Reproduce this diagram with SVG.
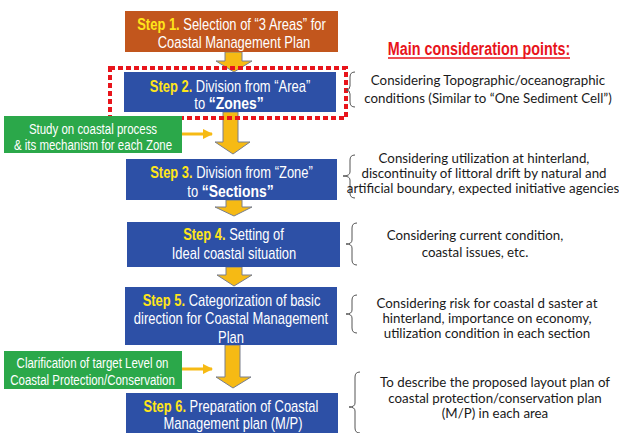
<svg xmlns="http://www.w3.org/2000/svg" width="619" height="433" viewBox="0 0 619 433">
<defs>
<style>
.step{font-family:"Liberation Sans",Arial,sans-serif;font-size:15.8px;fill:#fff;text-anchor:middle}
.y{fill:#FFE51A;font-weight:bold}
.b{font-weight:bold;font-size:17px}
.blue{fill:#2D50A6}
.green{fill:#2BA84A}
.gt{font-family:"Liberation Sans",Arial,sans-serif;font-size:14px;fill:#fff;text-anchor:middle}
.note{font-family:Lato,"Liberation Sans",sans-serif;font-size:13.3px;fill:#1a1a1a;text-anchor:middle}
.brace{fill:none;stroke:#555;stroke-width:1}
.big{fill:#F6BA14;stroke:#7A7F8C;stroke-width:1}
.thin{stroke:#F6BA14;stroke-width:3;fill:none}
</style>
<marker id="ah" viewBox="0 0 10 10" refX="9" refY="5" markerWidth="3.5" markerHeight="3.5" orient="auto"><path d="M0,0 L10,5 L0,10 z" fill="#F6BA14"/></marker>
</defs>
<rect width="619" height="433" fill="#fff"/>

<g id="connectors">
<path class="big" d="M225,52 H242 V61 H252 L234,72 L216,61 H225 Z"/>
<path class="big" d="M223,112 H238 V142 H250 L233,154 L215,142 H223 Z"/>
<path class="big" d="M226,200 H242 V207 H252 L234,216 L215,207 H226 Z"/>
<path class="big" d="M226,267 H242 V275 H252 L234,286 L217,275 H226 Z"/>
<path class="big" d="M225,345 H240 V377 H251 L233,388 L216,377 H225 Z"/>
<line class="thin" x1="182" y1="134" x2="212" y2="134" marker-end="url(#ah)"/>
<line class="thin" x1="182" y1="369" x2="212" y2="369" marker-end="url(#ah)"/>
</g>

<g id="step1">
<rect x="125" y="11" width="213" height="41" fill="#C2561D"/>
<text class="step" transform="translate(231.5,30) scale(0.82,1)"><tspan class="y">Step 1.</tspan> Selection of “3 Areas” for</text>
<text class="step" transform="translate(234,48) scale(0.82,1)">Coastal Management Plan</text>
</g>

<g id="step2">
<rect class="blue" x="124" y="72" width="212" height="40"/>
<text class="step" transform="translate(230,92) scale(0.82,1)"><tspan class="y">Step 2.</tspan> Division from “Area”</text>
<text class="step" transform="translate(229,109) scale(0.82,1)">to <tspan class="b">“Zones”</tspan></text>
</g>

<g id="highlight">
<rect x="110" y="68" width="236" height="50" fill="none" stroke="#E8141B" stroke-width="4" stroke-dasharray="5,3"/>
</g>

<g id="study">
<rect class="green" x="4" y="116" width="178" height="37"/>
<text class="gt" transform="translate(93,134) scale(0.82,1)">Study on coastal process</text>
<text class="gt" transform="translate(93,150) scale(0.82,1)">&amp; its mechanism for each Zone</text>
</g>

<g id="step3">
<rect class="blue" x="126" y="159" width="211" height="41"/>
<text class="step" transform="translate(231.5,178) scale(0.82,1)"><tspan class="y">Step 3.</tspan> Division from “Zone”</text>
<text class="step" transform="translate(230.5,197) scale(0.82,1)">to <tspan class="b">“Sections”</tspan></text>
</g>

<g id="step4">
<rect class="blue" x="127" y="222" width="213" height="45"/>
<text class="step" transform="translate(233.5,240) scale(0.82,1)"><tspan class="y">Step 4.</tspan> Setting of</text>
<text class="step" transform="translate(234,259) scale(0.82,1)">Ideal coastal situation</text>
</g>

<g id="step5">
<rect class="blue" x="125" y="287" width="212" height="58"/>
<text class="step" transform="translate(231.5,306) scale(0.82,1)"><tspan class="y">Step 5.</tspan> Categorization of basic</text>
<text class="step" transform="translate(231,324) scale(0.82,1)">direction for Coastal Management</text>
<text class="step" transform="translate(231,343) scale(0.82,1)">Plan</text>
</g>

<g id="clarify">
<rect class="green" x="4" y="351" width="178" height="38"/>
<text class="gt" transform="translate(92.5,368) scale(0.82,1)">Clarification of target Level on</text>
<text class="gt" transform="translate(92.5,385) scale(0.82,1)">Coastal Protection/Conservation</text>
</g>

<g id="step6">
<rect class="blue" x="126" y="393" width="212" height="45"/>
<text class="step" transform="translate(231,412) scale(0.82,1)"><tspan class="y">Step 6.</tspan> Preparation of Coastal</text>
<text class="step" transform="translate(233,429) scale(0.82,1)">Management plan (M/P)</text>
</g>

<g id="header">
<text transform="translate(479,55) scale(0.82,1)" font-family="Liberation Sans,Arial,sans-serif" font-size="17.5" font-weight="bold" fill="#E8141B" text-anchor="middle">Main consideration points:</text>
<line x1="388" y1="58" x2="570" y2="58" stroke="#E8141B" stroke-width="1.5"/>
</g>

<g id="note2">
<path class="brace" d="M355,72 Q350,72 350,77 V86 Q350,90 346,90 Q350,90 350,94 V102 Q350,107 355,107"/>
<text class="note" x="488" y="85">Considering Topographic/oceanographic</text>
<text class="note" x="488" y="103">conditions (Similar to “One Sediment Cell”)</text>
</g>

<g id="note3">
<path class="brace" d="M355,155 Q350,155 350,160 V172 Q350,176 343,176 Q350,176 350,180 V193 Q350,198 355,198"/>
<text class="note" x="484" y="163">Considering utilization at hinterland,</text>
<text class="note" x="484" y="178">discontinuity of littoral drift by natural and</text>
<text class="note" x="483" y="193" font-size="12.8">artificial boundary, expected initiative agencies</text>
</g>

<g id="note4">
<path class="brace" d="M357,223 Q352,223 352,228 V240 Q352,244 346,244 Q352,244 352,248 V260 Q352,265 357,265"/>
<text class="note" x="475" y="240">Considering current condition,</text>
<text class="note" x="475" y="257">coastal issues, etc.</text>
</g>

<g id="note5">
<path class="brace" d="M357,295 Q352,295 352,300 V310 Q352,314 346,314 Q352,314 352,318 V328 Q352,333 357,333"/>
<text class="note" x="487" y="308">Considering risk for coastal d saster at</text>
<text class="note" x="487" y="323">hinterland, importance on economy,</text>
<text class="note" x="487" y="338">utilization condition in each section</text>
</g>

<g id="note6">
<path class="brace" d="M360,372 Q355,372 355,377 V403 Q355,407 349,407 Q355,407 355,411 V428 Q355,433 360,433"/>
<text class="note" x="495" y="387">To describe the proposed layout plan of</text>
<text class="note" x="495" y="403">coastal protection/conservation plan</text>
<text class="note" x="495" y="418">(M/P) in each area</text>
</g>
</svg>
